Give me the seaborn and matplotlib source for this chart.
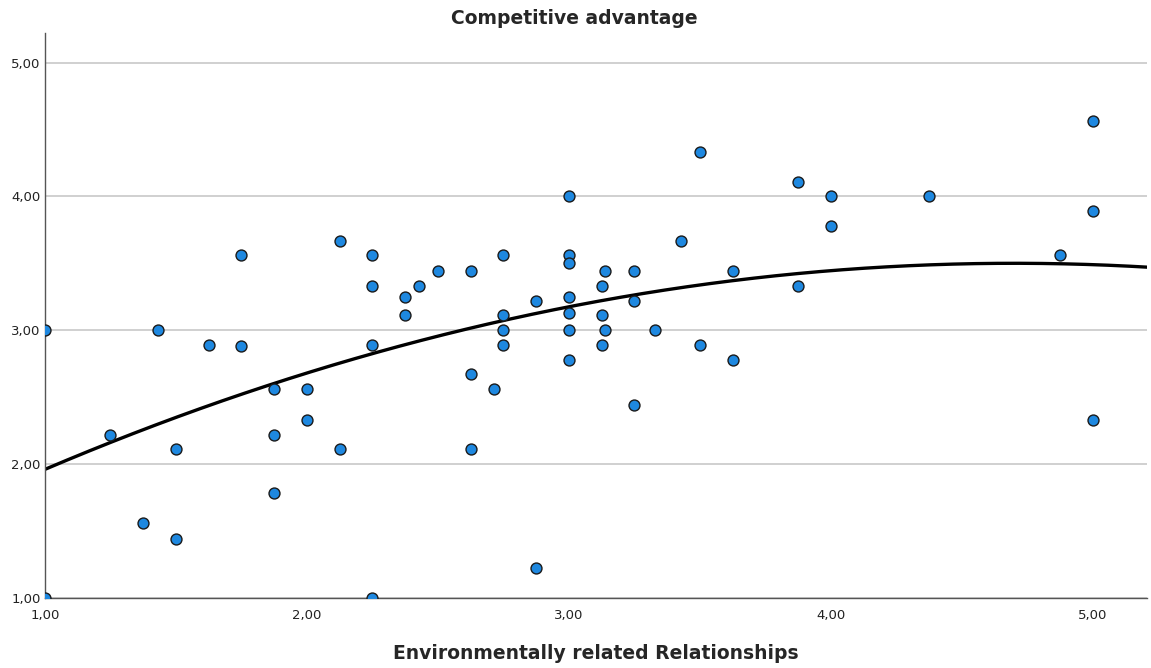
import numpy as np
import pandas as pd
import seaborn as sns
import matplotlib.pyplot as plt
from matplotlib.ticker import FuncFormatter

# data
env_rel = [1.00, 1.00, 1.25, 1.375, 1.43, 1.50, 1.50, 1.625, 1.75, 1.75,
           1.875, 1.875, 1.875, 2.00, 2.00, 2.125, 2.125, 2.25, 2.25, 2.25,
           2.25, 2.375, 2.375, 2.43, 2.50, 2.625, 2.625, 2.625, 2.714, 2.75,
           2.75, 2.75, 2.75, 2.875, 2.875, 3.00, 3.00, 3.00, 3.00, 3.00,
           3.00, 3.00, 3.125, 3.125, 3.125, 3.14, 3.14, 3.25, 3.25, 3.25,
           3.33, 3.43, 3.50, 3.50, 3.625, 3.625, 3.875, 3.875, 4.00, 4.00,
           4.375, 4.875, 5.00, 5.00, 5.00]
comp_adv = [3.00, 1.00, 2.22, 1.56, 3.00, 2.11, 1.44, 2.89, 2.88, 3.56,
            2.56, 2.22, 1.78, 2.56, 2.33, 3.67, 2.11, 3.56, 3.33, 2.89,
            1.00, 3.25, 3.11, 3.33, 3.44, 3.44, 2.67, 2.11, 2.56, 3.56,
            3.11, 3.00, 2.89, 3.22, 1.22, 4.00, 3.56, 3.50, 3.25, 3.13,
            3.00, 2.78, 3.33, 3.11, 2.89, 3.44, 3.00, 3.44, 3.22, 2.44,
            3.00, 3.67, 4.33, 2.89, 3.44, 2.78, 4.11, 3.33, 4.00, 3.78,
            4.00, 3.56, 4.56, 3.89, 2.33]

# quadratic fit line as shown in the chart (coefficients)
fit_coef = [-0.1125, 1.0575, 1.015]

df = pd.DataFrame({'env': env_rel, 'comp': comp_adv})

sns.set_style('white')
plt.rcParams['font.family'] = ['DejaVu Sans']

fig = plt.figure(figsize=(11.51, 6.68), dpi=100)
ax = fig.add_axes([0.039, 0.105, 0.9575, 0.845])
xmin, xmax = 1.0, 5.207
ax.set_xlim(xmin, xmax)
ax.set_ylim(1.0, 5.218)

xs = np.linspace(xmin, xmax, 200)
fit = pd.DataFrame({'env': xs, 'comp': np.polyval(fit_coef, xs)})
sns.lineplot(data=fit, x='env', y='comp', ax=ax, color='black', lw=2.4, zorder=2)
sns.scatterplot(data=df, x='env', y='comp', ax=ax, s=62, color='#1e88e0',
                edgecolor='#1a1a1a', linewidth=1.0, zorder=3)

ax.set_xticks([1, 2, 3, 4, 5])
ax.set_yticks([1, 2, 3, 4, 5])
fmt = FuncFormatter(lambda v, p: f'{v:.2f}'.replace('.', ','))
ax.xaxis.set_major_formatter(fmt)
ax.yaxis.set_major_formatter(fmt)
ax.tick_params(axis='both', length=0, labelsize=9.5, colors='#222222', pad=3)
ax.tick_params(axis='x', pad=8)

ax.yaxis.grid(True, color='#c8c8c8', lw=1.2)
ax.set_axisbelow(True)
for s in ['top', 'right']:
    ax.spines[s].set_visible(False)
for s in ['left', 'bottom']:
    ax.spines[s].set_color('#555555')
    ax.spines[s].set_linewidth(1.0)

ax.set_xlabel('Environmentally related Relationships', fontsize=13.5,
              fontweight='bold', labelpad=16)
ax.set_ylabel('')
fig.text(0.499, 0.972, 'Competitive advantage', ha='center', va='center',
         fontsize=13.5, fontweight='bold')

plt.savefig('out.png', dpi=100)
